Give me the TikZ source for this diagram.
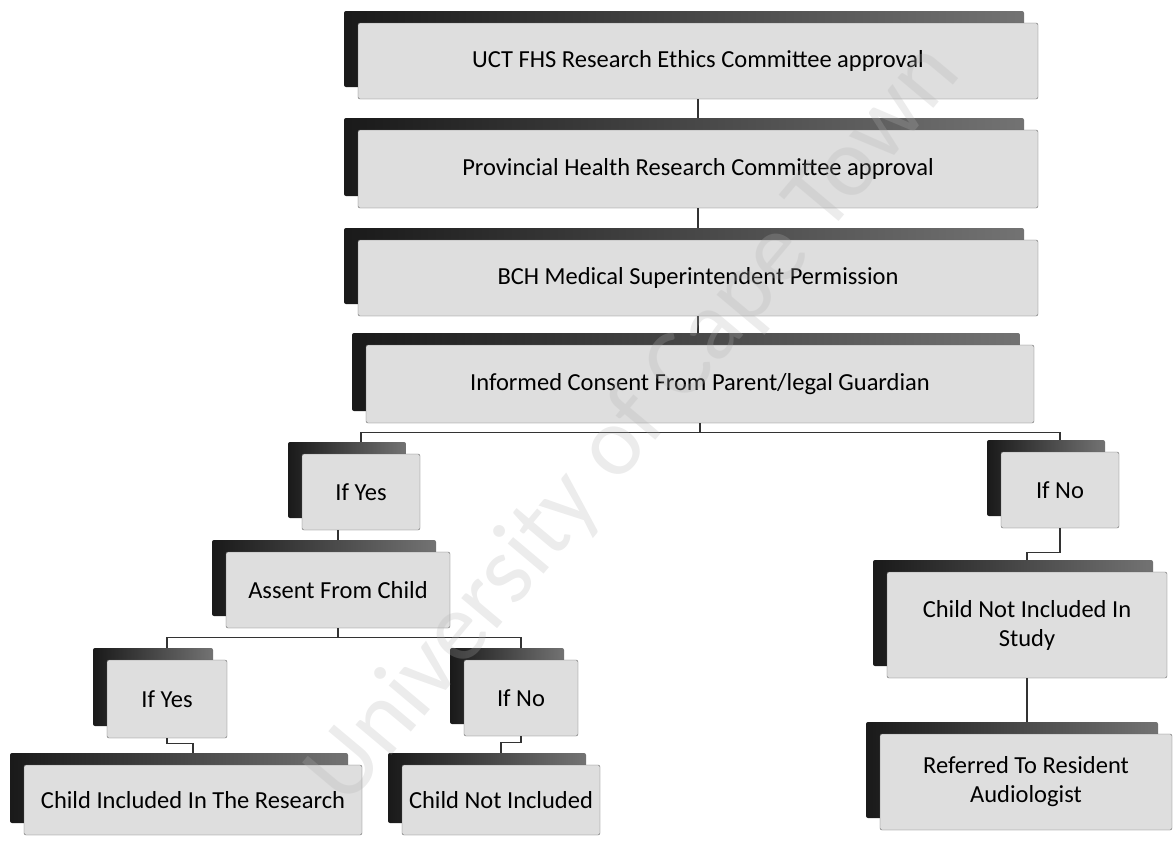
\documentclass[tikz,border=0pt]{standalone}
\usepackage{fontspec}
\setmainfont{Carlito}
\usetikzlibrary{shadows}

\begin{document}
\begin{tikzpicture}[x=1pt,y=-1pt,font=\fontsize{24.5}{29}\selectfont]
  \tikzstyle{stage}=[rectangle,rounded corners=2pt,draw=black!60,fill=black!13,
        inner sep=2pt,align=center,
        general shadow={left color=black!90,right color=black!55,shadow xshift=-14pt,shadow yshift=12pt}]
  \tikzstyle{link}=[draw=black!80,line width=1.2pt,shorten >=12pt]
  \useasboundingbox (0,0) rectangle (1175,841);
    \node [stage,minimum width=680pt,minimum height=76pt] (uct) at (698,61) {UCT FHS Research Ethics Committee approval};
    \node [stage,minimum width=680pt,minimum height=78pt] (prov) at (698,169) {Provincial Health Research Committee approval};
    \node [stage,minimum width=680pt,minimum height=76pt] (bch) at (698,278) {BCH Medical Superintendent Permission};
    \node [stage,minimum width=668pt,minimum height=78pt] (consent) at (700,384) {Informed Consent From Parent/legal Guardian};
    \node [stage,minimum width=118pt,minimum height=76pt] (yes1) at (361,492) {If Yes};
    \node [stage,minimum width=118pt,minimum height=76pt] (no1) at (1060,490) {If No};
    \node [stage,minimum width=224pt,minimum height=76pt] (assent) at (338,590) {Assent From Child};
    \node [stage,minimum width=120pt,minimum height=78pt] (yes2) at (167,699) {If Yes};
    \node [stage,minimum width=114pt,minimum height=76pt] (no2) at (521,698) {If No};
    \node [stage,minimum width=338pt,minimum height=70pt] (incl) at (193,800) {Child Included In The Research};
    \node [stage,minimum width=198pt,minimum height=70pt] (notincl) at (501,800) {Child Not Included};
    \node [stage,minimum width=280pt,minimum height=106pt] (study) at (1027,625) {Child Not Included In\\Study};
    \node [stage,minimum width=292pt,minimum height=96pt] (referred) at (1026,782) {Referred To Resident\\Audiologist};
    % connectors
    \draw [link] (uct.south) -- (uct.south |- prov.north);
    \draw [link] (prov.south) -- (prov.south |- bch.north);
    \draw [link] (bch.south) -- (bch.south |- consent.north);
    \draw [link] (consent.south) -- ++(0,9) -| (yes1.north);
    \draw [link] (consent.south) -- ++(0,9) -| (no1.north);
    \draw [link] (yes1.south -| assent.north) -- (assent.north);
    \draw [link] (assent.south) -- ++(0,9) -| (yes2.north);
    \draw [link] (assent.south) -- ++(0,9) -| (no2.north);
    \draw [link] (yes2.south) -- ++(0,5) -| (incl.north);
    \draw [link] (no2.south) -- ++(0,6) -| (notincl.north);
    \draw [link] (no1.south) -- ++(0,24) -| (study.north);
    \draw [link] (study.south) -- (study.south |- referred.north);
    % watermark
    \node [rotate=50,text=black!30,opacity=.25,font=\fontsize{98}{100}\selectfont] (watermark) at (635,425) {University of Cape Town};
\end{tikzpicture}
\end{document}
